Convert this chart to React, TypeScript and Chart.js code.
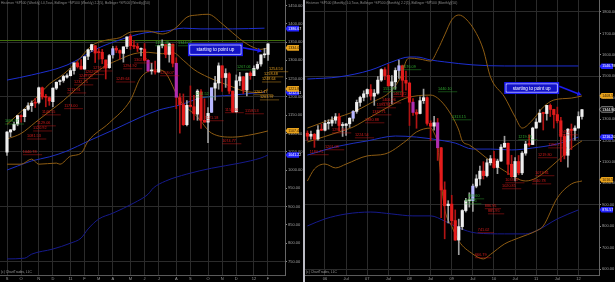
import React, { useEffect, useRef } from 'react';
import { Chart, registerables } from 'chart.js';

Chart.register(...registerables);

// ================= LEFT PANEL : ^SP500 weekly =================
const leftWeeks = [
  '2010-09-03','2010-09-10','2010-09-17','2010-09-24','2010-10-01','2010-10-08','2010-10-15','2010-10-22','2010-10-29','2010-11-05',
  '2010-11-12','2010-11-19','2010-11-26','2010-12-03','2010-12-10','2010-12-17','2010-12-24','2010-12-31','2011-01-07','2011-01-14',
  '2011-01-21','2011-01-28','2011-02-04','2011-02-11','2011-02-18','2011-02-25','2011-03-04','2011-03-11','2011-03-18','2011-03-25',
  '2011-04-01','2011-04-08','2011-04-15','2011-04-22','2011-04-29','2011-05-06','2011-05-13','2011-05-20','2011-05-27','2011-06-03',
  '2011-06-10','2011-06-17','2011-06-24','2011-07-01','2011-07-08','2011-07-15','2011-07-22','2011-07-29','2011-08-05','2011-08-12',
  '2011-08-19','2011-08-26','2011-09-02','2011-09-09','2011-09-16','2011-09-23','2011-09-30','2011-10-07','2011-10-14','2011-10-21',
  '2011-10-28','2011-11-04','2011-11-11','2011-11-18','2011-11-25','2011-12-02','2011-12-09','2011-12-16','2011-12-23','2011-12-30',
  '2012-01-06','2012-01-13','2012-01-20','2012-01-27','2012-02-03',
];
const leftOpen = [
  1049,1104,1110,1126,1149,1146,1166,1176,1184,1185,
  1225,1200,1198,1187,1224,1242,1245,1254,1258,1272,
  1293,1284,1276,1311,1329,1340,1322,1322,1301,1280,
  1315,1333,1327,1319,1338,1366,1340,1338,1330,1331,
  1300,1271,1271,1268,1340,1343,1316,1344,1292,1198,
  1179,1124,1177,1173,1153,1214,1136,1131,1158,1224,
  1238,1285,1253,1263,1216,1159,1244,1255,1219,1265,
  1258,1278,1290,1315,1316,
];
const leftHigh = [
  1105,1111,1131,1149,1151,1167,1184,1189,1196,1227,
  1227,1207,1200,1225,1241,1247,1259,1263,1278,1293,
  1297,1302,1311,1331,1344,1340,1332,1330,1301,1316,
  1338,1339,1329,1337,1364,1371,1355,1346,1334,1346,
  1302,1292,1298,1341,1356,1343,1347,1345,1307,1209,
  1208,1190,1230,1204,1220,1220,1195,1171,1224,1256,
  1293,1285,1277,1266,1216,1260,1267,1256,1265,1269,
  1285,1296,1315,1333,1346,
];
const leftLow = [
  1040,1091,1108,1121,1131,1132,1163,1160,1171,1181,
  1194,1173,1177,1173,1220,1233,1240,1251,1257,1262,
  1279,1276,1276,1302,1324,1294,1303,1291,1249,1278,
  1306,1321,1303,1295,1332,1330,1332,1324,1312,1298,
  1268,1262,1262,1267,1334,1307,1295,1282,1168,1101,
  1122,1121,1172,1137,1136,1114,1131,1075,1157,1191,
  1221,1215,1226,1209,1158,1158,1231,1209,1203,1248,
  1258,1275,1284,1307,1300,
];
const leftClose = [
  1104,1110,1125,1149,1146,1166,1176,1183,1183,1225,
  1200,1199,1189,1224,1240,1244,1256,1258,1272,1293,
  1283,1276,1310,1329,1343,1320,1321,1304,1279,1313,
  1332,1328,1320,1337,1364,1340,1338,1333,1331,1300,
  1271,1271,1268,1340,1344,1316,1345,1292,1199,1179,
  1124,1177,1174,1154,1216,1136,1131,1155,1225,1238,
  1285,1253,1264,1216,1159,1244,1255,1219,1265,1258,
  1278,1289,1315,1316,1345,
];
const leftTickLabels = ['S','O','N','D','11','F','M','A','M','J','J','A','S','O','N','D','12','F'];
const leftYTicks = [750,800,850,900,950,1000,1050,1100,1150,1200,1250,1300,1350,1400,1450];
const leftSignalUp = [30, 58];
const leftSignalDown = [40, 48];

// Bollinger (weekly): [week index, value]
const leftBandUpper = [[0,1125],[4,1160],[8,1195],[12,1235],[16,1262],[20,1298],[24,1340],[28,1355],[32,1362],[35,1377],[40,1380],[44,1372],[48,1390],[51,1418],[54,1424],[57,1426],[61,1400],[64,1375],[68,1345],[72,1330],[74,1334]];
const leftBandMid = [[0,1085],[4,1100],[8,1130],[12,1160],[16,1190],[20,1225],[24,1258],[28,1285],[32,1303],[36,1318],[40,1322],[44,1318],[47,1321],[50,1300],[53,1275],[57,1254],[61,1238],[64,1227],[68,1214],[72,1212],[74,1222]];
const leftBandLower = [[0,1016],[4,1016],[7,1030],[9,1016],[14,1019],[15,1016],[18,1038],[21,1046],[23,1079],[29,1129],[35,1191],[38,1254],[43,1274],[45,1265],[49,1191],[54,1145],[58,1101],[64,1090],[70,1098],[74,1107]];
const leftBlueUpper = [[0,1246],[7,1260],[17,1287],[26,1334],[32,1356],[39,1375],[45,1380],[50,1388],[55,1386],[64,1386],[73,1388]];
const leftBlueMid = [[0,1000],[3,1011],[7,1025],[12,1036],[17,1052],[23,1079],[30,1109],[38,1145],[43,1164],[49,1178],[55,1197],[64,1205],[73,1213]];
const leftBlueLow = [[0,757],[5,759],[7,770],[13,784],[18,800],[21,814],[23,839],[26,866],[30,882],[36,910],[40,934],[41.5,951],[45,970],[51,989],[58,1005],[66,1019],[72,1033],[74,1041]];
const leftLevel = [1356];

const leftTags = [
  { v: 1386.67, kind: 'blue' },
  { v: 1334.04, kind: 'orange' },
  { v: 1212.41, kind: 'blue' },
  { v: 1221.85, kind: 'orange' },
  { v: 1107.40, kind: 'orange' },
  { v: 1041.22, kind: 'blue' },
];
const leftRedNotes = [
  [4.5,1055,'1040.78'],[5.7,1098,'1081.53'],[7.4,1120,'1120.92'],[8.5,1134,'1129.06'],[9.9,1164,'1146.55'],
  [16.2,1181,'1173.00'],[17.0,1224,'1213.91'],[19.0,1246,'1232.25'],[20.4,1263,'1249.05'],[22.1,1274,'1262.55'],
  [24.4,1284,'1276.17'],[30.9,1254,'1249.64'],[32.9,1290,'1294.92'],[36.0,1306,'1302.71'],[43.4,1271,'1258.07'],
  [56.1,1148,'1121.18'],[61.8,1170,'1158.66'],[67.5,1167,'1158.53'],[61.0,1085,'1074.77'],
];
const leftGreenNotes = [[-0.6,1139,'1098.87'],[42.0,1353,'1356.48'],[48.5,1353,'1344.07'],[53.3,1213,'1204.52'],[65.2,1287,'1267.06']];
const leftOrangeNotes = [[74.3,1282,'1254.50'],[72.9,1268,'1258.48'],[72.3,1254,'1248.64'],[70.0,1219,'1202.17'],[71.7,1205,'1203.97']];
const leftCallout = { i: 51.3, v: 1347, tipI: 72.3, tipV: 1325, text: 'starting to point up' };
const leftTitle = 'Hist.mon ^SP500 (Weekly) L0,Tous, Bollinger ^SP500 (Weekly) 2.2(5), Bollinger ^SP500 (Weekly)(50)';

// ================= RIGHT PANEL : ^SP500 monthly =================
const rightMonths = [
  '2005-08','2005-09','2005-10','2005-11','2005-12',
  '2006-01','2006-02','2006-03','2006-04','2006-05','2006-06','2006-07','2006-08','2006-09','2006-10','2006-11','2006-12',
  '2007-01','2007-02','2007-03','2007-04','2007-05','2007-06','2007-07','2007-08','2007-09','2007-10','2007-11','2007-12',
  '2008-01','2008-02','2008-03','2008-04','2008-05','2008-06','2008-07','2008-08','2008-09','2008-10','2008-11','2008-12',
  '2009-01','2009-02','2009-03','2009-04','2009-05','2009-06','2009-07','2009-08','2009-09','2009-10','2009-11','2009-12',
  '2010-01','2010-02','2010-03','2010-04','2010-05','2010-06','2010-07','2010-08','2010-09','2010-10','2010-11','2010-12',
  '2011-01','2011-02','2011-03','2011-04','2011-05','2011-06','2011-07','2011-08','2011-09','2011-10','2011-11','2011-12',
  '2012-01','2012-02',
];
const rightOpen = [
  1234,1220,1229,1207,1249,
  1248,1280,1281,1295,1311,1270,1270,1278,1304,1336,1378,1401,
  1418,1438,1407,1421,1482,1531,1504,1455,1474,1527,1549,1481,
  1468,1379,1331,1326,1386,1400,1280,1267,1283,1166,969,896,
  903,826,735,798,873,919,919,987,1021,1057,1036,1096,
  1115,1074,1104,1169,1187,1089,1031,1102,1049,1141,1183,1181,
  1258,1286,1327,1326,1364,1345,1321,1292,1219,1131,1253,1247,
  1258,1312,
];
const rightHigh = [
  1245,1244,1233,1270,1276,
  1294,1297,1310,1326,1326,1284,1280,1306,1340,1389,1407,1432,
  1441,1461,1438,1499,1535,1540,1556,1503,1539,1576,1552,1524,
  1472,1396,1344,1404,1440,1404,1292,1313,1303,1168,1007,919,
  944,876,833,877,930,956,996,1040,1080,1101,1113,1130,
  1150,1113,1181,1220,1188,1131,1120,1130,1148,1196,1227,1262,
  1302,1344,1332,1364,1371,1346,1356,1308,1230,1256,1277,1269,
  1334,1346,
];
const rightLow = [
  1201,1206,1168,1201,1246,
  1245,1253,1268,1280,1245,1219,1224,1261,1290,1327,1360,1385,
  1403,1389,1364,1416,1476,1484,1454,1371,1439,1490,1406,1435,
  1270,1317,1257,1324,1373,1272,1200,1248,1107,840,741,815,
  805,734,667,784,866,889,869,979,992,1020,1030,1085,
  1071,1045,1102,1168,1041,1028,1011,1040,1040,1131,1174,1181,
  1257,1285,1249,1295,1312,1258,1282,1101,1114,1075,1158,1202,
  1258,1300,
];
const rightClose = [
  1220,1229,1207,1249,1248,
  1280,1281,1295,1311,1270,1270,1277,1304,1336,1378,1401,1418,
  1438,1407,1421,1482,1531,1503,1455,1474,1527,1549,1481,1468,
  1379,1331,1323,1386,1400,1280,1267,1283,1166,969,896,903,
  826,735,798,873,919,919,987,1021,1057,1036,1096,1115,
  1074,1104,1169,1187,1089,1031,1102,1049,1141,1183,1181,1258,
  1286,1327,1326,1364,1345,1321,1292,1219,1131,1253,1247,1258,
  1312,1344,
];
const rightTickLabels = ['06','Jul','07','Jul','08','Jul','09','Jul','10','Jul','11','Jul','12'];
const rightYTicks = [600,700,800,900,1000,1100,1200,1300,1400,1500,1600,1700,1800];
const rightSignalUp = [13, 26, 47];
const rightSignalDown = [30, 37];

const rightBandUpper = [[0,1258],[4,1282],[8,1305],[13,1333],[18,1375],[24,1436],[27,1515],[28,1570],[29,1585],[32,1580],[35,1571],[37,1623],[39,1693],[41,1763],[43,1786],[45,1768],[48,1700],[50,1623],[52,1497],[56,1403],[59,1310],[61,1258],[64,1296],[67,1356],[70,1389],[75,1398],[78,1408]];
const rightBandMid = [[0,1193],[9,1240],[13,1263],[18,1310],[23,1357],[28,1398],[35,1412],[37,1398],[40,1342],[43,1249],[44,1198],[46,1179],[52,1104],[56,1058],[62,1011],[65,1025],[71,1104],[75,1165],[78,1198]];
const rightBandLower = [[0,1011],[2,1067],[5,1090],[8,1072],[11,1090],[17,1128],[22,1137],[28,1198],[31,1240],[35,1258],[36,1235],[37,1180],[38,1010],[39,880],[41,800],[43,731],[47,670],[50,647],[52,668],[56,717],[60,745],[65,778],[67,801],[71,932],[75,997],[78,1011]];
const rightBlueUpper = [[0,1487],[9,1497],[18,1529],[24,1567],[29,1590],[31,1590],[35,1576],[39,1567],[47,1553],[56,1548],[65,1548],[77,1548]];
const rightBlueMid = [[0,1132],[9,1174],[17,1198],[25,1221],[31,1216],[39,1198],[42,1188],[47,1160],[52,1160],[58,1156],[64,1165],[71,1184],[77,1216]];
const rightBlueLow = [[0,801],[5,834],[11,857],[18,866],[24,857],[30,848],[35,848],[39,824],[43,792],[48,768],[56,764],[62,764],[65,778],[71,834],[77,876]];

const rightTags = [
  { v: 1546.78, kind: 'blue' },
  { v: 1408.53, kind: 'orange' },
  { v: 1344.90, kind: 'last' },
  { v: 1216.20, kind: 'blue' },
  { v: 1016.55, kind: 'orange' },
  { v: 876.57, kind: 'blue' },
];
const rightRedNotes = [
  [0.7,1156,'1180.75'],[5.0,1179,'1201.08'],[7.0,1258,'1295.84'],[13.5,1235,'1224.54'],[16.4,1305,'1380.88'],
  [18.4,1342,'1387.71'],[19.7,1375,'1393.94'],[21.2,1398,'1406.96'],[24.3,1427,'1461.72'],[47.6,675,'666.79'],
  [48.4,792,'741.02'],[50.4,904,'886.95'],[51.3,880,'885.95'],[55.3,997,'1020.85'],[56.2,1025,'1033.47'],
  [63.8,1020,'1040.78'],[64.7,1058,'1073.81'],[65.5,1142,'1219.80'],[68.4,1188,'1190.75'],[71.4,1249,'1249.05'],
];
const rightGreenNotes = [[26.9,1553,'1576.09'],[21.5,1450,'1552.87'],[37.1,1450,'1440.10'],[41.1,1319,'1313.15'],[44.8,927,'875.25'],[45.6,950,'869.60'],[59.9,1226,'1219.59']];
const rightOrangeNotes: any[] = [];
const rightCallout = { i: 55.9, v: 1473, tipI: 77.9, tipV: 1412, text: 'starting to point up' };
const rightTitle = 'Hist.mon ^SP500 (Monthly) L0,Tous, Bollinger ^SP500 (Monthly) 2.2(5), Bollinger ^SP500 (Monthly)(50)';

const copyright = '(c) ChartTrades, LLC';

// ================= rendering helpers =================
const FONT = '"Liberation Sans", "DejaVu Sans", sans-serif';
const BAND = '#8e5c12';

function drawTag(ctx: CanvasRenderingContext2D, x0: number, y: number, w: number, text: string, kind: string) {
  const h = 5.6;
  const fill = kind === 'blue' ? '#2424ff' : kind === 'orange' ? '#e8a21c' : '#151515';
  ctx.beginPath();
  ctx.moveTo(x0 + 0.5, y);
  ctx.lineTo(x0 + 2.5, y - h / 2);
  ctx.lineTo(x0 + w, y - h / 2);
  ctx.lineTo(x0 + w, y + h / 2);
  ctx.lineTo(x0 + 2.5, y + h / 2);
  ctx.closePath();
  ctx.fillStyle = fill;
  ctx.fill();
  if (kind === 'last') {
    ctx.strokeStyle = '#cfcfcf';
    ctx.lineWidth = 0.6;
    ctx.stroke();
  }
  ctx.fillStyle = kind === 'orange' ? '#2a1800' : '#ffffff';
  ctx.font = `3.6px ${FONT}`;
  ctx.textBaseline = 'middle';
  ctx.textAlign = 'left';
  ctx.fillText(text, x0 + 3.2, y + 0.2);
}

function makeOverlay(o: any) {
  return {
    id: 'overlay',
    beforeDraw(chart: any) {
      const { ctx, width, height } = chart;
      ctx.save();
      ctx.fillStyle = '#000';
      ctx.fillRect(0, 0, width, height);
      ctx.restore();
    },
    beforeDatasetsDraw(chart: any) {
      const { ctx, chartArea: a, scales } = chart;
      ctx.save();
      for (const lv of o.levels) {
        const py = Math.round(scales.y.getPixelForValue(lv)) + 0.5;
        ctx.strokeStyle = '#3f6e0c';
        ctx.lineWidth = 1;
        ctx.beginPath();
        ctx.moveTo(a.left, py);
        ctx.lineTo(a.right, py);
        ctx.stroke();
      }
      ctx.restore();
    },
    afterDraw(chart: any) {
      const { ctx, chartArea: a, scales } = chart;
      const xs = scales.x, ys = scales.y;
      ctx.save();
      // price notes
      ctx.font = `3.8px ${FONT}`;
      ctx.textBaseline = 'top';
      ctx.textAlign = 'left';
      const groups: [any[], string][] = [[o.red, '#d61b1b'], [o.green, '#2ea52e'], [o.orange, '#e49f22']];
      for (const [list, color] of groups) {
        for (const [i, v, t] of list) {
          const px = xs.getPixelForValue(i), py = ys.getPixelForValue(v);
          const w = ctx.measureText(t).width;
          ctx.globalAlpha = 1;
          ctx.fillStyle = color;
          ctx.fillText(t, px, py);
          ctx.globalAlpha = 0.75;
          ctx.strokeStyle = color;
          ctx.lineWidth = 0.6;
          ctx.beginPath();
          ctx.moveTo(px, py + 4.8);
          ctx.lineTo(px + w * 1.4, py + 4.8);
          ctx.stroke();
        }
      }
      ctx.globalAlpha = 1;
      // callout box + arrow
      const c = o.callout;
      const bx = xs.getPixelForValue(c.i), by = ys.getPixelForValue(c.v);
      const bw = 55, bh = o.calloutH;
      ctx.fillStyle = '#1c1cf0';
      ctx.fillRect(bx, by, bw, bh);
      ctx.strokeStyle = '#ffffff';
      ctx.lineWidth = 0.8;
      ctx.strokeRect(bx + 2, by + 2, bw - 4, bh - 4);
      ctx.fillStyle = '#1313c4';
      ctx.fillRect(bx + 2.4, by + 2.4, bw - 4.8, bh - 4.8);
      ctx.fillStyle = '#ffffff';
      ctx.font = `4.6px ${FONT}`;
      ctx.textAlign = 'center';
      ctx.textBaseline = 'middle';
      ctx.fillText(c.text, bx + bw / 2, by + bh / 2 + 0.3);
      const sx = bx + bw, sy = by + bh * 0.35;
      const tx = xs.getPixelForValue(c.tipI), ty = ys.getPixelForValue(c.tipV);
      const ang = Math.atan2(ty - sy, tx - sx);
      ctx.strokeStyle = '#1c1cf0';
      ctx.lineWidth = 1.6;
      ctx.beginPath();
      ctx.moveTo(sx, sy);
      ctx.lineTo(tx - 3 * Math.cos(ang), ty - 3 * Math.sin(ang));
      ctx.stroke();
      ctx.fillStyle = '#1c1cf0';
      ctx.beginPath();
      ctx.moveTo(tx, ty);
      ctx.lineTo(tx - 5 * Math.cos(ang - 0.5), ty - 5 * Math.sin(ang - 0.5));
      ctx.lineTo(tx - 5 * Math.cos(ang + 0.5), ty - 5 * Math.sin(ang + 0.5));
      ctx.closePath();
      ctx.fill();
      // axis tags
      for (const t of o.tags) drawTag(ctx, a.right, ys.getPixelForValue(t.v), 14, t.v.toFixed(2), t.kind);
      // title & copyright
      ctx.font = `3.3px ${FONT}`;
      ctx.fillStyle = '#8a8a8a';
      ctx.textAlign = 'left';
      ctx.textBaseline = 'top';
      ctx.fillText(o.title, 1, 1.5);
      ctx.fillStyle = '#9a9a9a';
      ctx.fillText(o.copyright, 1, 270.5);
      ctx.restore();
    },
  };
}

function candleDatasets(open: number[], high: number[], low: number[], close: number[], sigUp: number[], sigDown: number[]) {
  const idx = open.map((_, i) => i);
  const isUp = (i: number) => close[i] >= open[i];
  const body = idx.map((i) =>
    sigUp.includes(i) ? '#b6b6ff' : sigDown.includes(i) ? '#b02eb0' : isUp(i) ? '#efefef' : '#e41c1c');
  const wick = idx.map((i) => (isUp(i) ? '#a0a0a0' : '#b01414'));
  return [
    {
      type: 'bar',
      data: idx.map((i) => ({ x: i, y: [low[i], high[i]] })),
      backgroundColor: wick,
      borderWidth: 0,
      barThickness: 1,
      grouped: false,
      order: 1,
    },
    {
      type: 'bar',
      data: idx.map((i) => ({ x: i, y: [open[i], close[i]] })),
      backgroundColor: body,
      borderWidth: 0,
      barThickness: 2.5,
      minBarLength: 1,
      grouped: false,
      order: 0,
    },
  ];
}

function lineDs(pts: number[][], color: string) {
  return {
    type: 'line',
    data: pts.map(([x, y]) => ({ x, y })),
    borderColor: color,
    borderWidth: 1,
    pointRadius: 0,
    cubicInterpolationMode: 'monotone',
    fill: false,
    order: 2,
  };
}

function makeConfig(s: any) {
  const tickPos: number[] = s.tickPos;
  return {
    type: 'bar',
    data: {
      datasets: [
        ...candleDatasets(s.open, s.high, s.low, s.close, s.sigUp, s.sigDown),
        lineDs(s.bandUpper, BAND),
        lineDs(s.bandMid, BAND),
        lineDs(s.bandLower, BAND),
        lineDs(s.blueUpper, '#1d2fd2'),
        lineDs(s.blueMid, '#1d2fc0'),
        lineDs(s.blueLow, '#161a8c'),
      ],
    },
    options: {
      responsive: false,
      maintainAspectRatio: false,
      animation: false,
      events: [],
      layout: { padding: 0 },
      plugins: { legend: { display: false }, tooltip: { enabled: false }, title: { display: false } },
      scales: {
        x: {
          type: 'linear',
          position: 'bottom',
          min: s.xMin,
          max: s.xMax,
          offset: false,
          afterBuildTicks: (ax: any) => { ax.ticks = tickPos.map((v) => ({ value: v })); },
          afterFit: (sc: any) => { sc.height = 7; sc.paddingLeft = 0; sc.paddingRight = 0; },
          ticks: {
            autoSkip: false,
            maxRotation: 0,
            minRotation: 0,
            padding: 1,
            color: '#9c9c9c',
            font: { size: 4, family: FONT },
            callback: (_v: any, i: number) => s.tickLabels[i],
          },
          grid: { offset: false, color: '#2b2b2b', lineWidth: 1, drawTicks: false },
          border: { color: '#5a5a5a' },
        },
        y: {
          type: 'linear',
          position: 'right',
          min: s.yMin,
          max: s.yMax,
          afterBuildTicks: (ax: any) => { ax.ticks = s.yTicks.map((v: number) => ({ value: v })); },
          afterFit: (sc: any) => { sc.width = s.axisW; sc.paddingTop = 0; sc.paddingBottom = 0; },
          ticks: {
            padding: 1,
            color: '#a0a0a0',
            font: { size: 4, family: FONT },
            callback: (v: number) => Number(v).toFixed(2),
          },
          grid: {
            color: (ctx: any) => (ctx.tick && ctx.tick.value % s.gridStep === 0 ? '#2b2b2b' : 'rgba(0,0,0,0)'),
            tickColor: '#8a8a8a',
            tickLength: 2,
            drawTicks: true,
          },
          border: { color: '#666' },
        },
      },
    },
    plugins: [makeOverlay(s.overlay)],
  };
}

function monthStarts(dates: string[]) {
  return dates
    .map((d, i) => (i === 0 || d.slice(5, 7) !== dates[i - 1].slice(5, 7) ? i : -1))
    .filter((i) => i >= 0);
}

const leftSpec = {
  open: leftOpen, high: leftHigh, low: leftLow, close: leftClose,
  sigUp: leftSignalUp, sigDown: leftSignalDown,
  bandUpper: leftBandUpper, bandMid: leftBandMid, bandLower: leftBandLower,
  blueUpper: leftBlueUpper, blueMid: leftBlueMid, blueLow: leftBlueLow,
  xMin: -1.985, xMax: 78.82, yMin: 713, yMax: 1465,
  tickPos: monthStarts(leftWeeks), tickLabels: leftTickLabels,
  yTicks: leftYTicks, gridStep: 150, axisW: 18,
  overlay: {
    levels: leftLevel, tags: leftTags,
    red: leftRedNotes, green: leftGreenNotes, orange: leftOrangeNotes,
    callout: leftCallout, calloutH: 13, title: leftTitle, copyright,
  },
};

const rightSpec = {
  open: rightOpen, high: rightHigh, low: rightLow, close: rightClose,
  sigUp: rightSignalUp, sigDown: rightSignalDown,
  bandUpper: rightBandUpper, bandMid: rightBandMid, bandLower: rightBandLower,
  blueUpper: rightBlueUpper, blueMid: rightBlueMid, blueLow: rightBlueLow,
  xMin: -0.68, xMax: 82.84, yMin: 572, yMax: 1856,
  tickPos: rightMonths.map((m, i) => (m.endsWith('-01') || m.endsWith('-07') ? i : -1)).filter((i) => i >= 0),
  tickLabels: rightTickLabels,
  yTicks: rightYTicks, gridStep: 300, axisW: 16,
  overlay: {
    levels: [], tags: rightTags,
    red: rightRedNotes, green: rightGreenNotes, orange: rightOrangeNotes,
    callout: rightCallout, calloutH: 12, title: rightTitle, copyright,
  },
};

export default function App() {
  const leftRef = useRef<HTMLCanvasElement>(null);
  const rightRef = useRef<HTMLCanvasElement>(null);
  useEffect(() => {
    document.body.style.margin = '0';
    document.body.style.background = '#000';
    const c1 = new Chart(leftRef.current as HTMLCanvasElement, makeConfig(leftSpec) as any);
    const c2 = new Chart(rightRef.current as HTMLCanvasElement, makeConfig(rightSpec) as any);
    return () => { c1.destroy(); c2.destroy(); };
  }, []);
  return (
    <div style={{ position: 'fixed', left: 0, top: 0, width: 615, height: 282, background: '#000', overflow: 'hidden' }}>
      <canvas ref={leftRef} width={303} height={282} style={{ position: 'absolute', left: 0, top: 0, width: 303, height: 282 }} />
      <div style={{ position: 'absolute', left: 303, top: 0, width: 2, height: 282, background: '#bcbcc4' }} />
      <canvas ref={rightRef} width={310} height={282} style={{ position: 'absolute', left: 305, top: 0, width: 310, height: 282 }} />
    </div>
  );
}
